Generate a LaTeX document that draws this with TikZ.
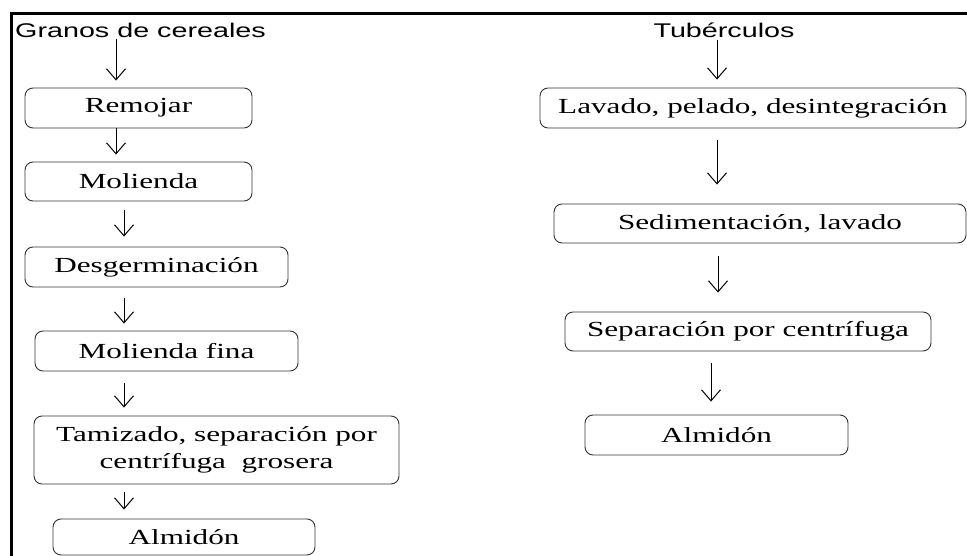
\documentclass[tikz,border=0pt]{standalone}
\usepackage{fontspec}
\setmainfont{Liberation Serif}[FakeStretch=1.45]
\newfontfamily\sansfont{Liberation Sans}[FakeStretch=1.45]
\usepackage{tikz}
\usetikzlibrary{arrows.meta}
\usetikzlibrary{positioning}

\begin{document}
\begin{tikzpicture}[x=1pt,y=-1pt,font=\fontsize{21.5}{27}\selectfont]
    \tikzstyle{caja} = [rectangle, rounded corners=8pt, draw=black!80, line width=0.9pt, inner sep=0pt, align=center]
    \tikzstyle{flecha} = [-{Straight Barb[length=11pt,width=19pt]}, line width=1pt]
    \tikzstyle{marco} = [line width=3pt]
    \tikzstyle{titulo} = [inner sep=0pt, font=\sansfont\fontsize{19.8}{24}\selectfont]
    \useasboundingbox (0,0) rectangle (967,556);
        %%% frame
        \draw[marco] (967,14) -- (11,14) -- (11,556);
        %%% columns of the arrows
        \coordinate (ejeA) at (116,0);
        \coordinate (ejeB) at (124,0);
        \coordinate (ejeC) at (717,0);
        \coordinate (ejeD) at (718,0);
        \coordinate (ejeE) at (711,0);
        %%% cereales %%%
        \node[titulo,anchor=west] (granos) at (15,30) {Granos de cereales};
        \node[caja,minimum width=227pt,minimum height=40pt] (remojar) at (138.5,108) {Remojar};
        \node[caja,minimum width=227pt,minimum height=39pt] (molienda) at (138.5,181.5) {Molienda};
        \node[caja,minimum width=263pt,minimum height=40pt] (desger) at (156.5,267) {Desgerminación};
        \node[caja,minimum width=263pt,minimum height=40pt] (molfina) at (166.5,351) {Molienda fina};
        \node[caja,minimum width=365pt,minimum height=68pt] (tamizado) at (216.5,450) {Tamizado, separación por\\centrífuga\ \ grosera};
        \node[caja,minimum width=262pt,minimum height=36pt] (almidon1) at (184,537) {Almidón};
        \draw[flecha,shorten <=2pt,shorten >=7pt] (granos.south -| ejeA) -- (remojar.north -| ejeA);
        \draw[flecha,shorten >=7pt] (remojar.south -| ejeA) -- (molienda.north -| ejeA);
        \draw[flecha,shorten <=9pt,shorten >=10pt] (molienda.south -| ejeB) -- (desger.north -| ejeB);
        \draw[flecha,shorten <=11pt,shorten >=7pt] (desger.south -| ejeB) -- (molfina.north -| ejeB);
        \draw[flecha,shorten <=12pt,shorten >=8pt] (molfina.south -| ejeB) -- (tamizado.north -| ejeB);
        \draw[flecha,shorten <=8pt,shorten >=9pt] (tamizado.south -| ejeB) -- (almidon1.north -| ejeB);
        %%% tuberculos %%%
        \node[titulo] (tuber) at (724,30) {Tubérculos};
        \node[caja,minimum width=426pt,minimum height=40pt] (lavado) at (753,108) {Lavado, pelado, desintegración};
        \node[caja,minimum width=412pt,minimum height=39pt] (sedim) at (760,223.5) {Sedimentación, lavado};
        \node[caja,minimum width=366pt,minimum height=39pt] (separ) at (748,331.5) {Separación por centrífuga};
        \node[caja,minimum width=263pt,minimum height=40pt] (almidon2) at (716.5,435) {Almidón};
        \draw[flecha,shorten <=2pt,shorten >=8pt] (tuber.south -| ejeC) -- (lavado.north -| ejeC);
        \draw[flecha,shorten <=12pt,shorten >=19pt] (lavado.south -| ejeC) -- (sedim.north -| ejeC);
        \draw[flecha,shorten <=13pt,shorten >=19pt] (sedim.south -| ejeD) -- (separ.north -| ejeD);
        \draw[flecha,shorten <=12pt,shorten >=13pt] (separ.south -| ejeE) -- (almidon2.north -| ejeE);
    \end{tikzpicture}
\end{document}
